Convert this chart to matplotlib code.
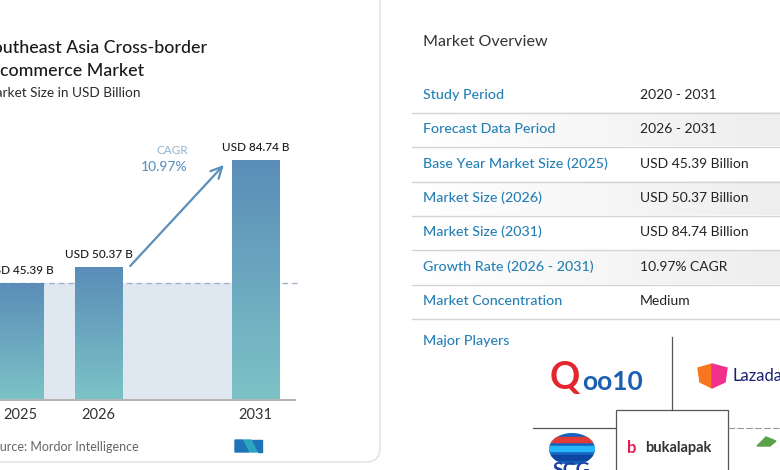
import matplotlib.pyplot as plt
import numpy as np
from matplotlib.colors import LinearSegmentedColormap
from matplotlib.patches import FancyBboxPatch, Rectangle, Ellipse, Polygon

plt.rcParams['font.family'] = ['Lato', 'DejaVu Sans']

# data
years = ['2025', '2026', '2031']
values = [45.39, 50.37, 84.74]
cagr = '10.97%'

rows = ['Study Period', 'Forecast Data Period', 'Base Year Market Size (2025)',
        'Market Size (2026)', 'Market Size (2031)', 'Growth Rate (2026 - 2031)',
        'Market Concentration']
row_values = ['2020 - 2031', '2026 - 2031', 'USD 45.39 Billion', 'USD 50.37 Billion',
              'USD 84.74 Billion', '10.97% CAGR', 'Medium']

blue_lbl = '#2580b6'
dark = '#222222'

fig = plt.figure(figsize=(7.8, 4.7), dpi=100)
fig.patch.set_facecolor('white')

# background layer in pixel coords
bg = fig.add_axes([0, 0, 1, 1])
bg.set_xlim(0, 780)
bg.set_ylim(470, 0)
bg.axis('off')

card = FancyBboxPatch((-30, -30), 410, 492, boxstyle='round,pad=0,rounding_size=14',
                      facecolor='white', edgecolor='#e4e4e4', lw=1.2)
bg.add_patch(card)

# titles (the reference is cropped at the left edge)
bg.text(-17, 48, 'Southeast Asia Cross-border', fontsize=12.8, color='#1a1a1a',
        weight='medium', va='center')
bg.text(-17, 71, 'E-commerce Market', fontsize=12.8, color='#1a1a1a',
        weight='medium', va='center')
bg.text(-17, 93, 'Market Size in USD Billion', fontsize=9.8, color='#2a2a2a', va='center')
bg.text(-14, 447, 'Source: Mordor Intelligence', fontsize=9, color='#666666', va='center')

# MN logo
bg.add_patch(Polygon([[235, 452], [235, 440], [243, 440], [249, 452]], color='#1f74b8'))
bg.add_patch(Polygon([[244, 440], [251, 440], [257, 452], [250, 452]], color='#2aa6c0'))
bg.add_patch(Polygon([[252, 440], [262, 440], [262, 452], [258, 452]], color='#1f74b8'))

# right panel: table
bg.text(423, 42, 'Market Overview', fontsize=11.6, color='#333333', va='center')
row_y = [95, 129, 164, 198, 232, 267, 301]
grad = np.linspace(0, 1, 100).reshape(1, -1)
shade = LinearSegmentedColormap.from_list('sh', ['#ffffff', '#eeeeee'])
for i, (lab, val) in enumerate(zip(rows, row_values)):
    y = row_y[i]
    if i % 2 == 1:
        bg.imshow(grad, extent=[412, 780, y + 17, y - 17], cmap=shade, aspect='auto', zorder=0)
    bg.text(423, y, lab, fontsize=10.3, color=blue_lbl, va='center', weight='medium')
    bg.text(640, y, val, fontsize=10, color=dark, va='center')
    bg.plot([412, 780], [y + 18, y + 18], color='#d4d4d4', lw=1)
bg.set_xlim(0, 780)
bg.set_ylim(470, 0)

bg.text(423, 341, 'Major Players', fontsize=10.3, color=blue_lbl, va='center', weight='medium')

# logo grid
bg.plot([672, 672], [337, 410], color='#555555', lw=0.9)
bg.plot([533, 616], [428, 428], color='#555555', lw=0.9)
bg.plot([728, 780], [428, 428], color='#999999', lw=0.8, ls=(0, (6, 2)))
bg.add_patch(Rectangle((616, 410), 112, 70, facecolor='white', edgecolor='#555555', lw=0.9))

# Qoo10
bg.text(550, 378, 'Q', fontsize=27, weight='bold', color='#e4262f', va='center')
bg.text(582, 382, 'oo10', fontsize=19, weight='bold', color='#1b5fb0', va='center')

# Lazada
bg.add_patch(Polygon([[698, 368], [712, 364], [712, 388], [700, 382]], color='#f7761f'))
bg.add_patch(Polygon([[712, 364], [727, 368], [725, 382], [712, 388]], color='#f0308a'))
bg.text(733, 376, 'Lazada', fontsize=12, color='#1a1f71', va='center')

# bukalapak
bg.text(627, 448, 'b', fontsize=12, weight='bold', color='#e31e52', va='center')
bg.text(645, 448, 'bukalapak', fontsize=10.5, weight='bold', color='#333333', va='center')

# SCG
ell = Ellipse((572, 449), 46, 32, facecolor='#1565c0')
bg.add_patch(ell)
for yy, c in [(437, '#e53935'), (446, '#29b6f6'), (455, '#0d47a1')]:
    r = Rectangle((540, yy), 70, 5, color=c)
    bg.add_patch(r)
    r.set_clip_path(ell)
bg.text(572, 470, 'SCG', fontsize=14, weight='bold', color='#1f3f9f', ha='center', va='center')

# green logo
bg.add_patch(Polygon([[757, 446], [766, 437], [776, 441], [770, 446]], color='#5aa14a'))

# ---- chart ----
ax = fig.add_axes([0, 70 / 470, 300 / 780, 260 / 470])
ax.patch.set_alpha(0)
pos = [0, 1, 3]
unit = 78.5
ymin = 8
xlim = (-20 / unit, 280 / unit)
ylim = (ymin, ymin + 260 / 3.13)
w = 0.6

ax.fill_between([xlim[0], pos[2] - w / 2], ymin, values[0], color='#dfe7f0', zorder=0, lw=0)
ax.axhline(values[0], xmax=297 / 300, ls=(0, (4, 3)), color='#9db4c8', lw=1, zorder=1)

cmap = LinearSegmentedColormap.from_list('bar', ['#7cc3c6', '#5a8db8'])
vgrad = np.linspace(0, 1, 256).reshape(-1, 1)
bars = ax.bar(pos, [v - ymin for v in values], bottom=ymin, width=w, color='none', zorder=2)
for b, v in zip(bars, values):
    im = ax.imshow(vgrad, extent=[b.get_x(), b.get_x() + w, ymin, v], origin='lower',
                   cmap=cmap, aspect='auto', zorder=2)
    im.set_clip_path(b)

for p, v in zip(pos, values):
    ax.annotate(f'USD {v} B', (p, v), xytext=(0, 5), textcoords='offset points',
                ha='center', va='bottom', fontsize=8.5, color='#1a1a1a', weight='medium')

ax.plot([xlim[0], xlim[0] + 295 / unit], [ymin, ymin], color='#b5b5b5', lw=1.5,
        clip_on=False, zorder=3)

ax.annotate('', xy=(pos[2] - 0.38, values[2] - 1), xytext=(pos[1] + 0.38, values[1] - 0.2),
            arrowprops=dict(arrowstyle='->', color='#5b8fb9', lw=1.6, mutation_scale=20))
ax.text(2.14, 87.6, 'CAGR', ha='right', va='center', fontsize=8.5, color='#92b4d0')
ax.text(2.14, 82.4, cagr, ha='right', va='center', fontsize=10, color='#5e93c0', weight='medium')

ax.set_xlim(*xlim)
ax.set_ylim(*ylim)
ax.set_xticks(pos, years)
ax.tick_params(axis='x', length=0, pad=6, labelsize=10.5, labelcolor='#333333')
ax.set_yticks([])
for s in ax.spines.values():
    s.set_visible(False)

fig.savefig('out.png', dpi=100)
